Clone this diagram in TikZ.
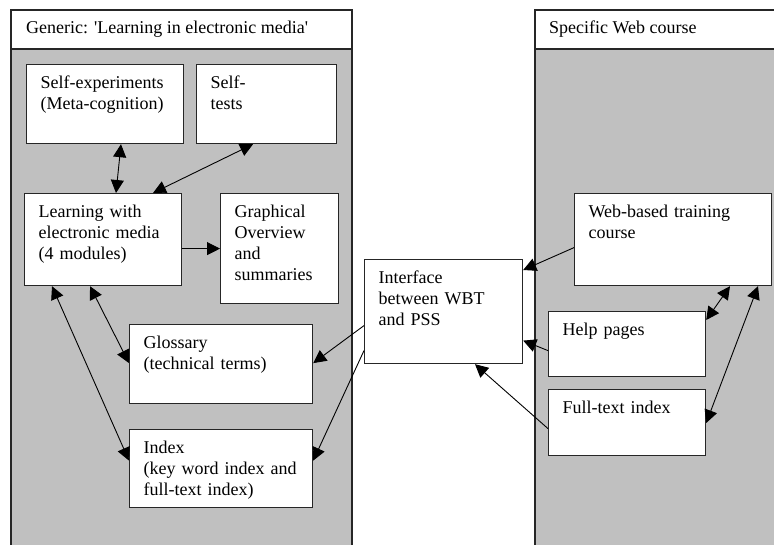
\documentclass[tikz,border=0pt]{standalone}
\usepackage{fontspec}
\setmainfont{Liberation Serif}
\usetikzlibrary{arrows.meta}
\definecolor{panelgray}{RGB}{192,192,192}
\begin{document}
\begin{tikzpicture}[x=1pt,y=-1pt,
  font=\fontsize{18}{21}\selectfont,
  panel/.style={draw=black!85, line width=1.3pt},
  box/.style={draw=black!85, fill=white, line width=1.2pt, align=left, anchor=north west,
    inner xsep=14pt, inner ysep=0pt, text height=23.5pt},
  conn/.style={line width=0.9pt, -{Triangle[length=13pt,width=13pt]}},
  bconn/.style={line width=0.9pt, {Triangle[length=13pt,width=13pt]}-{Triangle[length=13pt,width=13pt]}}
]
\clip (0,0) rectangle (774,544);
% panels
\fill[panelgray] (11,49) rectangle (352,560);
\draw[panel] (11,560) -- (11,10) -- (352,10) -- (352,560);
\draw[panel] (11,49) -- (352,49);
\node[anchor=base west, inner sep=0pt] (tgen) at (26,33.5) {Generic: \textquotesingle Learning in electronic media\textquotesingle};
\fill[panelgray] (535,49) rectangle (790,560);
\draw[panel] (535,560) -- (535,10) -- (790,10);
\draw[panel] (535,49) -- (790,49);
\node[anchor=base west, inner sep=0pt] (tspec) at (549,33.5) {Specific Web course};
% boxes
\node[box, text width=129pt, text depth=55.5pt] (se) at (26,64) {Self-experiments\\(Meta-cognition)};
\node[box, text width=112pt, text depth=55.5pt] (st) at (196,64) {Self-\\tests};
\node[box, text width=129pt, text depth=68.5pt] (learn) at (24,193) {Learning with\\electronic media\\(4 modules)};
\node[box, text width=90pt, text depth=86.5pt] (graph) at (220,193) {Graphical\\Overview\\and\\summaries};
\node[box, text width=155pt, text depth=55.5pt] (gloss) at (129,324) {Glossary\\(technical terms)};
\node[box, text width=155pt, text depth=54.5pt] (index) at (129,429) {Index\\(key word index and\\full-text index)};
\node[box, text width=130pt, text depth=80.5pt] (iface) at (364,259) {Interface\\between WBT\\and PSS};
\node[box, text width=169pt, text depth=68.5pt] (web) at (574,193) {Web-based training\\course};
\node[box, text width=129pt, text depth=41.5pt] (help) at (548,311) {Help pages};
\node[box, text width=129pt, text depth=42.5pt] (full) at (548,389) {Full-text index};
% connectors
\draw[bconn] ([xshift=95pt]se.south west) -- ([xshift=92pt]learn.north west);
\draw[bconn] ([xshift=57pt]st.south west) -- ([xshift=129pt]learn.north west);
\draw[conn] (learn.east |- graph.west) -- (graph.west);
\draw[bconn] ([xshift=66pt]learn.south west) -- ([yshift=1pt]gloss.west);
\draw[bconn] ([xshift=28pt]learn.south west) -- ([yshift=8pt]index.west);
\draw[conn] ([yshift=-14pt]iface.west) -- ([yshift=1pt]gloss.east);
\draw[conn] ([yshift=-39pt]iface.west) -- ([yshift=8pt]index.east);
\draw[conn] ([yshift=-8pt]web.west) -- ([yshift=-11pt]iface.north east);
\draw[conn] ([yshift=-6.5pt]help.west) -- ([yshift=-29pt]iface.east);
\draw[conn] ([yshift=-6pt]full.west) -- ([xshift=111pt]iface.south west);
\draw[bconn] ([xshift=156pt]web.south west) -- ([yshift=-9pt]help.north east);
\draw[bconn] ([xshift=184pt]web.south west) -- ([yshift=-34pt]full.north east);
\end{tikzpicture}
\end{document}
